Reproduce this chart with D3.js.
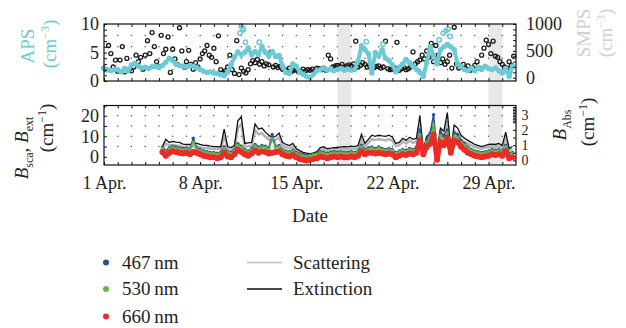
<!DOCTYPE html>
<html>
<head>
<meta charset="utf-8">
<script src="https://cdn.jsdelivr.net/npm/d3@7"></script>
<style>
  body { margin: 0; background: #fff; }
  svg text { font-family: 'Liberation Serif', 'Times New Roman', serif !important; fill: #222; }
</style>
</head>
<body>
<div id="chart"></div>
<script>
// APS number conc. (cm^-3), main band, 6-hourly from 1 Apr 00:00
const apsValues = [2.2,2.0,1.8,2.0, 2.0,1.6,2.2,1.8, 2.8,3.1,2.6,2.3, 2.4,2.2,2.5,2.6, 2.4,2.7,3.3,4.0,
  3.6,2.9,2.7,2.6, 2.5,2.7,2.6,2.4, 2.0,1.7,1.5,1.6, 1.4,1.3,1.1,0.9, 1.6,2.9,4.2,5.1,
  4.6,5.0,5.8,4.6, 5.2,4.6,6.0,5.0, 4.4,5.2,4.3,4.5, 2.6,1.5,1.3,3.0, 2.6,1.6,1.2,0.8,
  0.6,1.2,1.8,2.0, 2.2,1.9,2.1,1.8, 2.0,2.2,1.9,2.1, 1.9,2.0,3.5,6.2, 5.5,4.8,1.4,5.0,
  4.4,5.5,4.0,3.6, 2.8,1.6,2.4,3.0, 3.8,3.2,2.6,2.0, 1.5,0.8,3.2,6.0, 4.5,3.0,5.5,6.0,
  6.4,6.0,5.5,3.0, 2.5,2.0,1.8,2.3, 1.8,2.4,2.0,2.6, 2.2,2.0,2.3,1.8, 1.4,2.2,0.8,2.6];
// APS isolated high readings: [day offset from 1 Apr, value]
const apsHigh = [[9.9, 8.4], [10.0, 9.6], [10.1, 9.2], [10.15, 9.0], [10.3, 6.8], [11.3, 6.8],
  [19.1, 6.9], [20.3, 6.5], [24.4, 7.2], [24.7, 8.4], [24.9, 8.8], [25.05, 9.1], [25.2, 7.8]];

// SMPS number conc. (cm^-3), 4-hourly from 1 Apr 00:00
const smpsValues = [180,150,600,450,200,330, 120,330,580,110,360,150, 130,200,420,300,380,160,
  420,690,450,840,580,300, 200,790,450,530,760,100, 530,350,250,930,500,200,
  300,510,250,160,280,200, 350,450,500,600,420,380, 550,300,780,150,100,130,
  200,420,150,80,690,60, 180,120,90,150,260,320, 280,340,250,300,220,260,
  240,480,200,230,190,210, 160,150,130,180,120,140, 150,110,120,160,130,150,
  140,160,130,180,170,150, 180,140,420,350,200,220, 230,210,250,200,220,240,
  220,260,680,200,230,280, 250,200,230,170,190,210, 220,180,200,680,170,150,
  160,180,660,140,170,190, 150,170,200,480,260,300, 330,420,350,500,380,640,
  300,600,420,280,350,250, 300,420,180,940,260,180, 200,250,170,220,140,190,
  230,300,180,420,550,700, 620,450,680,400,380,300, 250,200,180,300,230,400];

// optical data, 6-hourly from 5 Apr 06:00
const extinction = [5.0,8.5,7.0, 7.5,7.2,7.0,6.2, 6.0,6.0,6.8,6.5, 6.0,5.6,5.5,5.2, 5.0,5.0,4.8,13.5,
  5.0,4.5,5.5,17.5, 19.5,6.5,6.8,7.0, 16.0,13.5,14.0,12.0, 10.5,9.5,10.0,11.5, 7.0,6.0,5.5,6.5,
  4.0,3.0,2.2,1.8, 1.5,1.8,2.5,4.5, 4.8,4.0,4.2,4.5, 4.4,4.8,5.0,4.8, 5.2,5.0,5.5,11.0,
  6.5,8.5,10.5,10.0, 10.5,10.2,10.0,10.5, 9.5,6.5,7.0,9.0, 8.0,9.5,8.5,9.0, 20.0,3.0,10.0,11.5,
  16.0,2.5,14.0,12.5, 21.5,3.5,15.5,14.0, 10.5,9.0,8.0,7.0, 6.0,5.5,5.0,5.5, 6.0,6.2,6.0,6.5,
  5.5,12.0,4.0,5.0];
const scattering = [3.5,6.5,5.5, 5.8,5.5,5.4,4.8, 4.6,4.5,5.2,5.0, 4.6,4.2,4.2,4.0, 3.8,3.9,3.6,10.5,
  3.8,3.4,4.2,14.0, 16.0,5.0,5.2,5.4, 13.0,11.0,11.5,9.8, 8.5,7.6,8.2,9.5, 5.6,4.6,4.2,5.0,
  3.0,2.2,1.5,1.2, 1.0,1.2,1.8,3.4, 3.6,3.0,3.2,3.4, 3.3,3.6,3.8,3.6, 4.0,3.8,4.2,8.8,
  5.0,6.8,8.6,8.2, 8.6,8.3,8.1,8.6, 7.8,5.2,5.6,7.4, 6.5,7.8,6.9,7.3, 16.0,2.2,7.8,9.0,
  12.5,2.0,11.0,10.0, 17.5,2.6,12.5,11.2, 8.5,7.2,6.4,5.6, 4.8,4.4,4.0,4.4, 4.8,5.0,4.8,5.2,
  4.4,9.5,3.0,3.9];
const abs467 = [0.88,0.62,0.82, 0.93,0.88,0.82,0.78, 0.82,0.72,1.45,0.82, 0.72,0.62,0.57,0.52, 0.52,0.47,0.52,0.9,
  0.57,0.52,0.72,1.1, 0.93,0.72,0.62,0.78, 1.05,0.88,0.98,0.93, 0.78,1.7,0.93,0.98, 0.72,0.62,0.57,0.67,
  0.52,0.42,0.37,0.32, 0.37,0.42,0.47,0.57, 0.52,0.47,0.52,0.57, 0.52,0.57,0.52,0.52, 0.57,0.52,0.62,1.0,
  0.72,0.83,0.88,0.78, 0.88,0.78,0.72,0.78, 0.72,0.52,0.62,0.72, 0.67,0.78,0.72,0.88, 2.0,0.72,1.4,1.8,
  3.0,0.37,1.9,1.6, 2.0,0.9,1.8,1.7, 1.3,1.1,0.88,0.72, 0.62,0.57,0.52,0.57, 0.62,0.72,0.67,0.72,
  0.62,1.0,0.47,0.52];
const abs530 = [0.8,0.55,0.75, 0.85,0.8,0.75,0.7, 0.75,0.65,1.2,0.75, 0.65,0.55,0.5,0.45, 0.45,0.4,0.45,0.8,
  0.5,0.45,0.65,1.0, 0.85,0.65,0.55,0.7, 0.95,0.8,0.9,0.85, 0.7,1.4,0.85,0.9, 0.65,0.55,0.5,0.6,
  0.45,0.35,0.3,0.25, 0.3,0.35,0.4,0.5, 0.45,0.4,0.45,0.5, 0.45,0.5,0.45,0.45, 0.5,0.45,0.55,0.9,
  0.65,0.75,0.8,0.7, 0.8,0.7,0.65,0.7, 0.65,0.45,0.55,0.65, 0.6,0.7,0.65,0.8, 1.7,0.65,1.2,1.5,
  2.3,0.3,1.6,1.4, 1.8,0.8,1.6,1.5, 1.2,1.0,0.8,0.65, 0.55,0.5,0.45,0.5, 0.55,0.65,0.6,0.65,
  0.55,0.9,0.4,0.45];
const abs660 = [0.55,0.3,0.5, 0.6,0.55,0.5,0.45, 0.5,0.4,0.55,0.5, 0.4,0.3,0.25,0.2, 0.2,0.15,0.2,0.5,
  0.25,0.2,0.4,0.7, 0.55,0.4,0.3,0.45, 0.65,0.5,0.6,0.55, 0.45,0.5,0.55,0.6, 0.4,0.3,0.25,0.35,
  0.2,0.1,0.05,0.0, 0.05,0.1,0.15,0.25, 0.2,0.15,0.2,0.25, 0.2,0.25,0.2,0.2, 0.25,0.2,0.3,0.6,
  0.4,0.5,0.5,0.45, 0.5,0.45,0.4,0.45, 0.4,0.2,0.3,0.4, 0.35,0.45,0.4,0.5, 1.3,0.4,0.9,1.1,
  1.7,0.05,1.2,1.0, 1.5,0.5,1.3,1.2, 0.9,0.7,0.5,0.4, 0.3,0.25,0.2,0.25, 0.3,0.4,0.35,0.4,
  0.3,0.6,0.15,0.2];

const dateLabels = ["1 Apr.", "8 Apr.", "15 Apr.", "22 Apr.", "29 Apr."];
const labelDays = [1, 8, 15, 22, 29];
const shadedDays = [[18, 19], [29, 30]];
const waveLabels = ["467\u2009nm", "530\u2009nm", "660\u2009nm"];
const waveColors = ["#2d4f9e", "#62b846", "#ec2a26"];

const FONT = "'Liberation Serif', 'Times New Roman', serif";
const width = 626, height = 328;
const svg = d3.select("#chart").append("svg")
  .attr("width", width).attr("height", height)
  .attr("font-family", FONT);

const apr = d => new Date(2013, 3, d);
const x = d3.scaleTime().domain([apr(1), apr(31)]).range([104, 516]);
const top0 = 24, top1 = 81, bot0 = 105.5, bot1 = 165;
const yAps = d3.scaleLinear().domain([0, 10]).range([top1, top0]);
const ySmps = d3.scaleLinear().domain([-60, 1000]).range([top1, top0]);
const yExt = d3.scaleLinear().domain([-4, 25]).range([bot1, bot0]);
const yAbs = d3.scaleLinear().domain([-0.3, 3.6]).range([bot1, bot0]);

const tAps = apsValues.map((v, i) => d3.timeHour.offset(apr(1), i * 6));
const tSmps = smpsValues.map((v, i) => d3.timeHour.offset(apr(1), i * 4));
const tOpt = extinction.map((v, i) => d3.timeHour.offset(new Date(2013, 3, 5, 6), i * 6));
const dayToDate = d => d3.timeMinute.offset(apr(1), Math.round(d * 1440));

// shaded days
svg.selectAll("rect.shade").data(shadedDays).enter().append("rect")
  .attr("class", "shade")
  .attr("x", d => x(apr(d[0])))
  .attr("width", d => x(apr(d[1])) - x(apr(d[0])))
  .attr("y", top0).attr("height", bot1 - top0)
  .attr("fill", "#e8e8e8");

// grid dots
const days = d3.range(2, 31);
function gridDots(yVals, yScale) {
  const pts = [];
  days.forEach(d => yVals.forEach(v => pts.push([x(apr(d)), yScale(v)])));
  svg.append("g").selectAll("circle").data(pts).enter().append("circle")
    .attr("cx", d => d[0]).attr("cy", d => d[1]).attr("r", 0.75).attr("fill", "#555");
}
gridDots([2, 4, 6, 8], yAps);
gridDots([5, 10, 15, 20], yExt);

// top panel data
const gTop = svg.append("g");
gTop.selectAll("circle.smps").data(smpsValues).enter().append("circle")
  .attr("class", "smps")
  .attr("cx", (d, i) => x(tSmps[i])).attr("cy", d => ySmps(d))
  .attr("r", 2.0).attr("fill", "none").attr("stroke", "#1a1a1a").attr("stroke-width", 1.3);
gTop.append("path").datum(apsValues)
  .attr("d", d3.line().x((d, i) => x(tAps[i])).y(d => yAps(d)))
  .attr("fill", "none").attr("stroke", "#6ccad6").attr("stroke-width", 4)
  .attr("stroke-linejoin", "round");
gTop.selectAll("circle.aps").data(apsValues).enter().append("circle")
  .attr("class", "aps")
  .attr("cx", (d, i) => x(tAps[i])).attr("cy", d => yAps(d))
  .attr("r", 2.7).attr("fill", "#6ccad6");
gTop.selectAll("circle.apsHigh").data(apsHigh).enter().append("circle")
  .attr("class", "apsHigh")
  .attr("cx", d => x(dayToDate(d[0]))).attr("cy", d => yAps(d[1]))
  .attr("r", 2.2).attr("fill", "none").attr("stroke", "#6ccad6").attr("stroke-width", 1.5);

// bottom panel data
const line = yScale => d3.line().x((d, i) => x(tOpt[i])).y(d => yScale(d));
svg.append("path").datum(scattering).attr("d", line(yExt))
  .attr("fill", "none").attr("stroke", "#b4b4b4").attr("stroke-width", 2.6);
svg.append("path").datum(extinction).attr("d", line(yExt))
  .attr("fill", "none").attr("stroke", "#111").attr("stroke-width", 1.3);
[abs467, abs530, abs660].forEach((arr, k) => {
  const g = svg.append("g");
  g.append("path").datum(arr).attr("d", line(yAbs))
    .attr("fill", "none").attr("stroke", waveColors[k])
    .attr("stroke-width", k === 2 ? 5 : 1.6).attr("stroke-linejoin", "round");
  g.selectAll("circle").data(arr).enter().append("circle")
    .attr("cx", (d, i) => x(tOpt[i])).attr("cy", d => yAbs(d))
    .attr("r", k === 2 ? 3 : 1.7).attr("fill", waveColors[k]);
});

// frames
[[top0, top1], [bot0, bot1]].forEach(p => {
  svg.append("rect").attr("x", 104).attr("y", p[0]).attr("width", 412).attr("height", p[1] - p[0])
    .attr("fill", "none").attr("stroke", "#111").attr("stroke-width", 1.2);
});

// ticks
function ticks(axis, tx, ty) {
  const g = svg.append("g").attr("transform", `translate(${tx},${ty})`).call(axis);
  g.attr("font-family", FONT);
  g.select(".domain").remove();
  g.selectAll("line").attr("stroke", "#111");
  return g;
}
const dayTicks = d3.range(1, 31).map(apr);
[top0, bot0].forEach(yy => ticks(d3.axisTop(x).tickValues(dayTicks).tickSize(-3).tickFormat(""), 0, yy));
[top1, bot1].forEach(yy => ticks(d3.axisBottom(x).tickValues(dayTicks).tickSize(-3).tickFormat(""), 0, yy));
ticks(d3.axisLeft(yAps).tickValues(d3.range(0, 11)).tickSize(-3).tickFormat(""), 104, 0);
ticks(d3.axisRight(ySmps).tickValues(d3.range(0, 1001, 100)).tickSize(-3).tickFormat(""), 516, 0);
ticks(d3.axisLeft(yExt).tickValues(d3.range(0, 26, 5)).tickSize(-3).tickFormat(""), 104, 0);
ticks(d3.axisRight(yAbs).tickValues([0, 0.5, 1, 1.5, 2, 2.5, 2.6, 2.7, 2.8, 2.9, 3, 3.1, 3.2, 3.3, 3.4, 3.5]).tickSize(-3).tickFormat(""), 516, 0);

// tick labels
function labels(axis, tx, ty, fs) {
  const g = ticks(axis, tx, ty);
  g.selectAll("text").style("font-size", fs || "18px").style("font-family", FONT).attr("fill", "#222");
  return g;
}
const plain = d => String(d);
labels(d3.axisLeft(yAps).tickValues([0, 5, 10]).tickFormat(plain).tickSize(0).tickPadding(5), 104, 0);
labels(d3.axisRight(ySmps).tickValues([0, 500, 1000]).tickFormat(plain).tickSize(0).tickPadding(10), 516, 0);
labels(d3.axisLeft(yExt).tickValues([0, 10, 20]).tickFormat(plain).tickSize(0).tickPadding(5), 104, 0);
labels(d3.axisRight(yAbs).tickValues([0, 1, 2, 3]).tickFormat(plain).tickSize(0).tickPadding(5.5), 516, 0, "14px");
labels(d3.axisBottom(x).tickValues(labelDays.map(apr)).tickSize(0).tickPadding(11)
  .tickFormat((d, i) => dateLabels[i]), 0, bot1);

// axis titles
function vtitle(cx, cy, color, parts) {
  const t = svg.append("text")
    .attr("transform", `translate(${cx},${cy}) rotate(-90)`)
    .attr("text-anchor", "middle").style("font-size", "19px").style("fill", color);
  parts.forEach(p => {
    const s = t.append("tspan").text(p.t);
    if (p.dy) s.attr("dy", p.dy);
    if (p.fs) s.style("font-size", p.fs);
    if (p.it) s.style("font-style", "italic");
  });
}
vtitle(34, 46, "#6ccad6", [{ t: "APS" }]);
vtitle(56, 44, "#6ccad6", [{ t: "(cm" }, { t: "\u22123", dy: -7, fs: "12px" }, { t: ")", dy: 7 }]);
vtitle(590, 33, "#cfcfcf", [{ t: "SMPS" }]);
vtitle(612, 33, "#cfcfcf", [{ t: "(cm" }, { t: "\u22123", dy: -7, fs: "12px" }, { t: ")", dy: 7 }]);
vtitle(28, 148, "#222", [{ t: "B", it: 1 }, { t: "sca", dy: 5, fs: "12px" }, { t: ", ", dy: -5 },
  { t: "B", it: 1 }, { t: "ext", dy: 5, fs: "12px" }]);
vtitle(53, 128, "#222", [{ t: "(cm" }, { t: "\u22121", dy: -7, fs: "12px" }, { t: ")", dy: 7 }]);
vtitle(566, 125, "#222", [{ t: "B", it: 1 }, { t: "Abs", dy: 5, fs: "12px" }]);
vtitle(594, 122, "#222", [{ t: "(cm" }, { t: "\u22121", dy: -7, fs: "12px" }, { t: ")", dy: 7 }]);

svg.append("text").attr("x", 310).attr("y", 222).attr("text-anchor", "middle")
  .style("font-size", "19px").text("Date");

// legend
const legY = [262.5, 289, 316.5];
waveLabels.forEach((lab, k) => {
  svg.append("circle").attr("cx", 106).attr("cy", legY[k]).attr("r", 3).attr("fill", waveColors[k]);
  svg.append("text").attr("x", 122).attr("y", legY[k] + 6).style("font-size", "19px").text(lab);
});
[["Scattering", "#bdbdbd", 1.3], ["Extinction", "#111", 1.6]].forEach((l, k) => {
  svg.append("line").attr("x1", 247).attr("x2", 282).attr("y1", legY[k]).attr("y2", legY[k])
    .attr("stroke", l[1]).attr("stroke-width", l[2]);
  svg.append("text").attr("x", 293).attr("y", legY[k] + 6).style("font-size", "19px").text(l[0]);
});
</script>
</body>
</html>
